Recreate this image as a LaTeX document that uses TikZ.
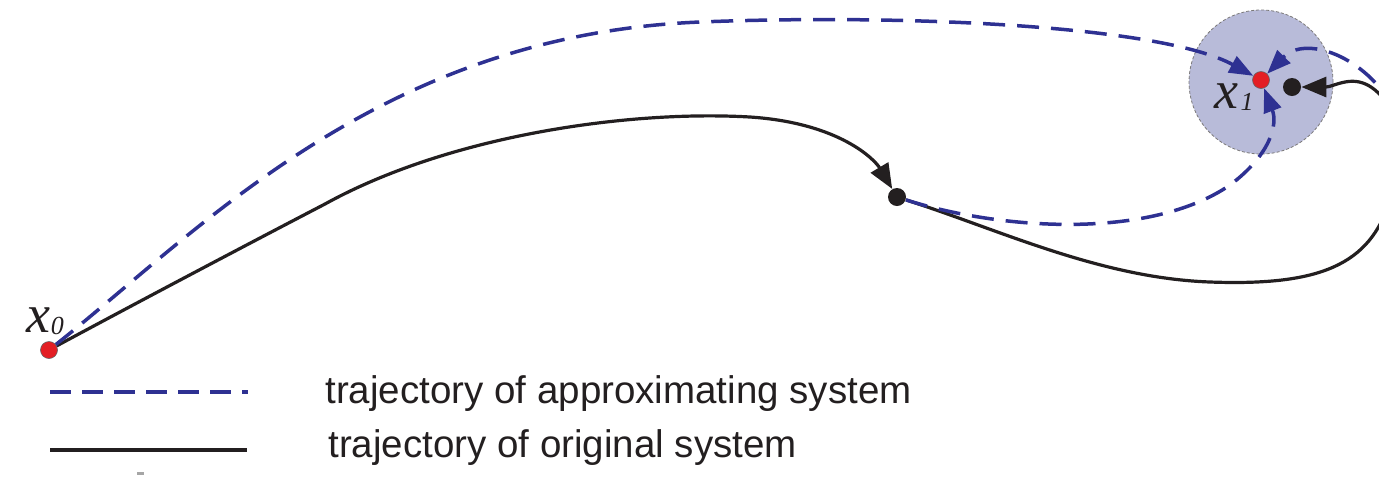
\documentclass[tikz,border=0pt]{standalone}
\usepackage{fontspec}
\setmainfont{Liberation Serif}
\newfontfamily\legfont{Liberation Sans}
\usetikzlibrary{arrows.meta}
\definecolor{trajblue}{HTML}{2E3192}
\definecolor{dotred}{HTML}{E31E24}
\definecolor{inkblack}{HTML}{231F20}
\definecolor{regionfill}{HTML}{B8BBD9}
\tikzset{
  approx/.style={draw=trajblue, line width=1.75pt, dash pattern=on 11pt off 6pt},
  orig/.style={draw=inkblack, line width=1.6pt},
  bluetip/.style={-{Triangle[length=12pt,width=9pt]}},
  blacktip/.style={-{Triangle[length=12.5pt,width=10pt]}},
  reddot/.style={circle, fill=dotred, draw=inkblack!70, line width=0.3pt, inner sep=0pt, minimum size=8.5pt},
  blackdot/.style={circle, fill=inkblack, inner sep=0pt, minimum size=9pt},
  ptlabel/.style={inner sep=0pt, text=inkblack},
  legtext/.style={inner sep=0pt, anchor=base west, text=inkblack, font=\legfont\fontsize{19.25}{22}\selectfont},
}
\begin{document}
\begin{tikzpicture}[x=0.5pt, y=-0.5pt]
\useasboundingbox (0,0) rectangle (1379,479);
\begin{scope}
\clip (0,0) rectangle (1379,479);
% neighbourhood of x1
\node[circle, fill=regionfill, draw=inkblack!60, dash pattern=on 1.5pt off 1pt, line width=0.4pt, minimum size=72pt, inner sep=0pt] (reg) at (1261,82) {};
% points
\node[reddot] (x0) at (49,350) {};
\node[reddot] (x1) at (1261,80) {};
\node[blackdot] (b1) at (897,197) {};
\node[blackdot] (b2) at (1292,87) {};
% labels
\node[ptlabel] (lx0) at (45,321) {\fontsize{27}{27}\selectfont\itshape x\kern0.5pt\raisebox{-1pt}{\fontsize{13}{13}\selectfont 0}};
\node[ptlabel] (lx1) at (1234,97) {\fontsize{27}{27}\selectfont\itshape x\kern1pt\raisebox{-1pt}{\fontsize{13}{13}\selectfont 1}};
% original system trajectory
\draw[orig, blacktip] (x0) .. controls (140,301) and (250,243) .. (325,204)
   .. controls (450,135) and (630,110) .. (750,117)
   .. controls (840,123) and (875,160) .. (b1);
\draw[orig] (b1) .. controls (1000,230) and (1100,278) .. (1210,282)
   .. controls (1320,286) and (1370,265) .. (1390,200);
\draw[orig, blacktip] (1395,115) .. controls (1380,90) and (1365,78) .. (1345,82)
   .. controls (1335,84) and (1330,87) .. (b2);
% approximating system trajectories
\draw[approx, bluetip] (x0) .. controls (200,230) and (380,35) .. (700,22)
   .. controls (900,14) and (1160,25) .. (x1);
\draw[approx, bluetip] (b1) .. controls (1000,230) and (1150,240) .. (1230,185)
   .. controls (1270,155) and (1278,125) .. (x1);
\draw[approx, bluetip] (1395,110) .. controls (1365,55) and (1305,35) .. (x1);
\end{scope}
% legend
\coordinate (la1) at (50,392);
\coordinate (la2) at (248,392);
\coordinate (lb1) at (50,450);
\coordinate (lb2) at (247,450);
\draw[draw=trajblue, line width=2pt, dash pattern=on 10.5pt off 5.5pt] (la1) -- (la2);
\draw[draw=inkblack, line width=2pt] (lb1) -- (lb2);
\node[legtext] (ta) at (325,403) {trajectory of approximating system};
\node[legtext] (tb) at (328,457) {trajectory of original system};
\fill[gray!70] (137,472) rectangle (144,475);
\end{tikzpicture}
\end{document}
